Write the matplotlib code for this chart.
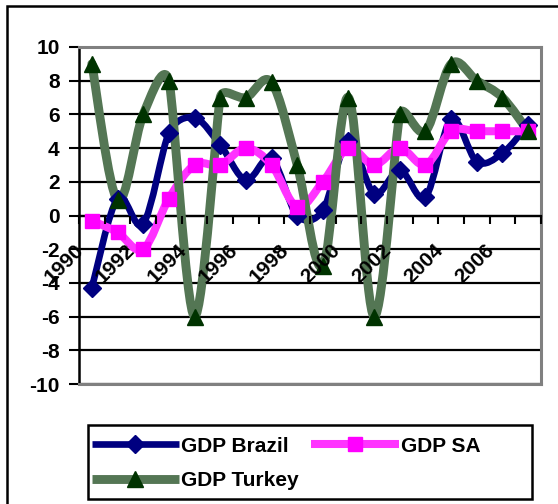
import matplotlib
matplotlib.use('Agg')
import matplotlib.pyplot as plt
from matplotlib.path import Path
from matplotlib.patches import PathPatch, Rectangle
from matplotlib.lines import Line2D
from matplotlib.transforms import ScaledTranslation
import numpy as np

years = list(range(1990, 2008))
gdp_brazil = [-4.3, 1.0, -0.5, 4.9, 5.8, 4.2, 2.1, 3.4, 0.0, 0.3, 4.4, 1.3, 2.7, 1.1, 5.7, 3.2, 3.7, 5.4]
gdp_sa = [-0.3, -1.0, -2.0, 1.0, 3.0, 3.0, 4.0, 3.0, 0.5, 2.0, 4.0, 3.0, 4.0, 3.0, 5.0, 5.0, 5.0, 5.0]
gdp_turkey = [9.0, 0.9, 6.0, 8.0, -6.0, 7.0, 7.0, 7.9, 3.0, -3.0, 7.0, -6.0, 6.0, 5.0, 9.0, 8.0, 7.0, 5.0]
tick_years = [str(y) for y in years[::2]]

plt.rcParams['font.family'] = ['Liberation Sans', 'DejaVu Sans']
plt.rcParams['font.weight'] = 'bold'
plt.rcParams['axes.unicode_minus'] = False
FS = 15


def smooth_path(ax, x, y):
    # excel style smoothed line, control points worked out in screen pixels
    pts = ax.transData.transform(np.column_stack([x, y]))
    n = len(pts)

    def ctrl(i):
        p0 = pts[max(i - 1, 0)]
        p1 = pts[i]
        p2 = pts[min(i + 1, n - 1)]
        d02 = np.hypot(*(p2 - p0))
        if d02 == 0:
            return np.zeros(2)
        lens = [d02 / 6.0]
        d01 = np.hypot(*(p1 - p0))
        d12 = np.hypot(*(p2 - p1))
        if d01 > 0:
            lens.append(d01 / 2.0)
        if d12 > 0:
            lens.append(d12 / 2.0)
        return (p2 - p0) / d02 * min(lens)

    verts = [pts[0]]
    codes = [Path.MOVETO]
    for i in range(n - 1):
        verts += [pts[i] + ctrl(i), pts[i + 1] - ctrl(i + 1), pts[i + 1]]
        codes += [Path.CURVE4] * 3
    verts = ax.transData.inverted().transform(np.array(verts))
    return Path(verts, codes)


fig = plt.figure(figsize=(5.58, 5.04), dpi=100)
ax = fig.add_axes([79 / 558, 1 - 384 / 504, (541 - 79) / 558, (384 - 47) / 504])

xs = np.arange(len(years))
ax.set_xlim(-0.5, len(years) - 0.5)
ax.set_ylim(-10, 10)

# spines first (moving a spine resets the ticks)
ax.spines['bottom'].set_position(('data', 0))
ax.spines['bottom'].set_color('black')
ax.spines['bottom'].set_linewidth(1.6)
ax.spines['left'].set_color('black')
ax.spines['left'].set_linewidth(1.8)
for s in ['top', 'right']:
    ax.spines[s].set_color('#808080')
    ax.spines[s].set_linewidth(2.2)
ax.axhline(-10, color='#808080', lw=2.2, zorder=2.6, clip_on=False)

series = [
    (gdp_brazil, 'GDP Brazil', '#000080', 4.8, 'D', 9, '#000080'),
    (gdp_sa, 'GDP SA', '#FF33FF', 5.8, 's', 10, '#FF00FF'),
    (gdp_turkey, 'GDP Turkey', '#547654', 6.4, '^', 11, '#003300'),
]
handles = {}
for vals, name, col, lw, mk, ms, mcol in series:
    p = PathPatch(smooth_path(ax, xs, vals), fill=False, edgecolor=col, lw=lw,
                  capstyle='round', joinstyle='round', zorder=3)
    ax.add_patch(p)
    ax.plot(xs, vals, ls='none', marker=mk, ms=ms, color=mcol, zorder=4)
    handles[name] = Line2D([], [], color=col, lw=lw, marker=mk, ms=ms,
                           markerfacecolor=mcol, markeredgecolor=mcol,
                           solid_capstyle='butt')

ax.grid(axis='y', color='black', lw=1.6)
ax.set_axisbelow(True)

ax.set_yticks(range(-10, 11, 2))
ax.tick_params(axis='y', length=7, width=1.5, pad=7, color='black', labelsize=FS)
ax.set_xticks(xs[::2])
ax.set_xticks(np.arange(-0.5, len(years), 1.0), minor=True)
ax.tick_params(axis='x', which='major', length=0, pad=18, labelsize=FS)
ax.tick_params(axis='x', which='minor', length=6, width=1.5, color='black')
ax.set_xticklabels(tick_years, rotation=45, ha='right', va='top',
                   rotation_mode='anchor', fontweight='bold')
shift = ScaledTranslation(-0.18, 0, fig.dpi_scale_trans)
for lab in ax.get_xticklabels():
    lab.set_transform(lab.get_transform() + shift)
# year labels sit on top of the lines
ax.xaxis.set_zorder(5)

# outer chart frame
fig.patches.append(Rectangle((7 / 558, -0.2), 1.2, 1 - 6 / 504 + 0.2, transform=fig.transFigure,
                             fill=False, edgecolor='black', lw=1.8))
# legend box
fig.patches.append(Rectangle((88 / 558, 1 - 499 / 504), (532 - 88) / 558, (499 - 425) / 504,
                             transform=fig.transFigure, fill=False, edgecolor='black', lw=1.8))
order = ['GDP Brazil', 'GDP Turkey', 'GDP SA']
fig.legend([handles[k] for k in order], order, loc='upper left',
           bbox_to_anchor=(77 / 558, 1 - 422 / 504), ncol=2, frameon=False,
           prop={'size': FS, 'weight': 'bold'}, handlelength=4.2, handletextpad=0.1,
           columnspacing=0.6, labelspacing=0.75, borderpad=0.2)

plt.savefig('out.png', dpi=100)
